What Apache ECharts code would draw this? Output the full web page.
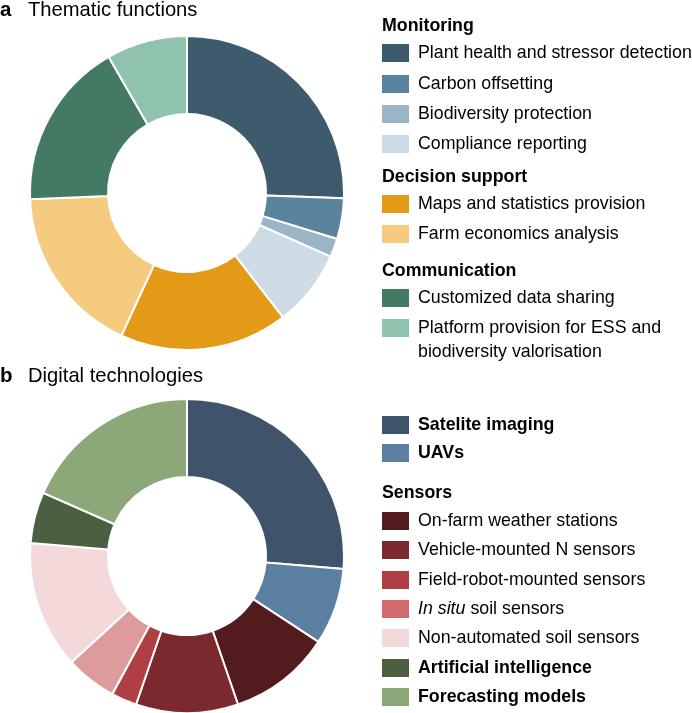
<!DOCTYPE html>
<html><head><meta charset="utf-8">
<script src="https://cdn.jsdelivr.net/npm/echarts@6/dist/echarts.min.js"></script>
<style>html,body{margin:0;padding:0;background:#fff}#c{width:692px;height:713px}</style>
</head><body><div id="c"></div>
<script>
// ---- Panel a: Thematic functions (share of angle, %)
const thematicLabels = ['Plant health and stressor detection','Carbon offsetting','Biodiversity protection','Compliance reporting','Maps and statistics provision','Farm economics analysis','Customized data sharing','Platform provision for ESS and\nbiodiversity valorisation'];
const thematicValues = [25.5, 4.2, 1.9, 7.9, 17.3, 17.5, 17.3, 8.3];
const thematicGroups = ['Monitoring','Monitoring','Monitoring','Monitoring','Decision support','Decision support','Communication','Communication'];
const thematicColors = ['#3e5a6d','#5a849e','#9bb5c6','#cddce4','#e39b17','#f5cb80','#447a64','#8fc3ae'];

// ---- Panel b: Digital technologies (counts)
const techLabels = ['Satelite imaging','UAVs','On-farm weather stations','Vehicle-mounted N sensors','Field-robot-mounted sensors','In situ soil sensors','Non-automated soil sensors','Artificial intelligence','Forecasting models'];
const techValues = [10, 3, 4, 4, 1, 2, 5, 2, 7];
const techGroups = ['', '', 'Sensors','Sensors','Sensors','Sensors','Sensors','',''];
const techColors = ['#3f546b','#5b7fa1','#531b1e','#7b292e','#af3f43','#dd9b9d','#f4d9db','#4a6040','#8ca878'];
const techLegendColors = ['#3f546b','#5b7fa1','#531b1e','#7b292e','#af3f43','#d06a6c','#f4d9db','#4a6040','#8ca878'];

const FONT = '"Liberation Sans", Arial, Helvetica, sans-serif';
const FS = '17.8px ';
const chart = echarts.init(document.getElementById('c'), null, {renderer:'canvas'});

function pieSeries(labels, values, colors, cy) {
  return {
    type: 'pie', center: [187, cy], radius: [79, 157], startAngle: 90, clockwise: true,
    silent: true, label: {show:false}, labelLine:{show:false},
    itemStyle: {borderColor:'#ffffff', borderWidth: 2},
    emphasis: {disabled: true},
    data: values.map((v,i)=>({name: labels[i], value: v, itemStyle:{color: colors[i]}}))
  };
}

const graphics = [];
function title(letter, text, y) {
  graphics.push({type:'text', x:0, y:y, style:{text:letter, font:'bold 20.5px '+FONT, fill:'#000', verticalAlign:'middle'}});
  graphics.push({type:'text', x:28, y:y, style:{text:text, font:'20.2px '+FONT, fill:'#000', verticalAlign:'middle'}});
}
function header(text, y) {
  graphics.push({type:'text', x:382, y:y, style:{text:text, font:'bold '+FS+FONT, fill:'#000', verticalAlign:'middle'}});
}
function item(label, color, y, bold) {
  graphics.push({type:'rect', shape:{x:382, y:y-9, width:27, height:18}, style:{fill:color}});
  let txt = label, rich = {};
  if (label.startsWith('In situ')) {
    txt = '{it|In situ}{n|' + label.slice(7) + '}';
    rich = {it:{font:'italic '+FS+FONT, fill:'#000'}, n:{font:FS+FONT, fill:'#000'}};
  }
  const lines = label.split('\n').length;
  graphics.push({type:'text', x:418, y: lines>1 ? y-12 : y, style:{text:txt, rich:rich,
    font:(bold?'bold ':'')+FS+FONT, fill:'#000', verticalAlign: lines>1 ? 'top' : 'middle', lineHeight:24}});
}

title('a', 'Thematic functions', 10);
title('b', 'Digital technologies', 376);

// legend a
const thematicY = [53, 84, 114, 144, 204, 234, 298, 328];
thematicLabels.forEach((l,i)=>{
  if (i===0 || thematicGroups[i-1] !== thematicGroups[i]) header(thematicGroups[i], thematicY[i]-27);
  item(l, thematicColors[i], thematicY[i], false);
});

// legend b
const techY = [425, 453, 521, 550, 580, 609, 638, 668, 697];
techLabels.forEach((l,i)=>{
  if (techGroups[i] && (i===0 || techGroups[i-1] !== techGroups[i])) header(techGroups[i], techY[i]-28);
  item(l, techLegendColors[i], techY[i], !techGroups[i]);
});

chart.setOption({
  animation: false,
  series: [pieSeries(thematicLabels, thematicValues, thematicColors, 193),
           pieSeries(techLabels, techValues, techColors, 556)],
  graphic: graphics
});
</script></body></html>
